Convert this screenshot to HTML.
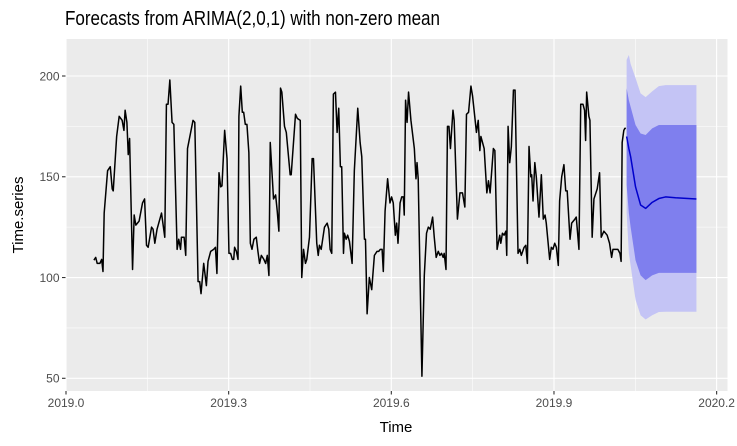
<!DOCTYPE html>
<html><head><meta charset="utf-8"><style>
body{margin:0;background:#fff;}
svg{display:block;font-family:"Liberation Sans",Arial,sans-serif;}
</style></head><body>
<svg id="chart" width="737" height="446" viewBox="0 0 737 446">
<rect width="737" height="446" fill="#fff"/>
<text x="65" y="25" font-size="20" fill="#000" textLength="375" lengthAdjust="spacingAndGlyphs">Forecasts from ARIMA(2,0,1) with non-zero mean</text>
<rect x="65.5" y="39" width="662" height="352" fill="#ebebeb"/>
<g id="grid"></g><g id="bands"></g><g id="lines"></g><g id="axes"></g>
<text x="396" y="432" font-size="15" text-anchor="middle" fill="#000">Time</text>
<text transform="translate(23,215) rotate(-90)" font-size="15" text-anchor="middle" fill="#000">Time.series</text>
</svg>
<script>
const obsDays=[18.8,20.0,21.0,22.8,24.0,24.9,25.7,28.0,29.8,31.1,31.8,34.1,35.8,37.8,39.0,39.8,41.0,41.9,42.8,44.8,45.9,47.0,49.2,51.5,52.9,54.2,55.3,57.6,58.6,59.8,61.3,64.3,66.5,67.6,68.7,69.9,71.4,72.6,74.8,75.9,77.1,77.7,79.5,80.6,81.8,85.5,86.7,88.9,90.0,90.9,92.7,94.5,95.6,97.4,99.4,100.6,101.6,103.0,104.1,105.0,106.8,
108.4,109.7,110.8,112.0,112.9,113.5,114.7,115.8,116.4,117.6,118.7,119.6,120.7,121.8,123.1,124.1,125.2,126.5,128.1,129.2,130.3,131.5,133.2,134.4,135.5,136.6,137.5,139.7,141.1,142.2,143.3,144.4,145.3,147.1,148.3,150.9,151.6,154.5,155.7,157.7,158.7,159.9,161.2,162.1,163.9,165.7,166.6,168.8,169.8,170.6,171.8,174.0,175.8,176.9,177.8,178.9,180.0,181.4,182.5,183.6,184.7,185.6,186.8,187.4,188.6,189.6,190.8,192.6,194.1,196.4,
198.0,199.1,200.9,201.6,202.7,204.2,205.8,207.6,209.4,210.5,211.6,212.8,213.6,214.8,216.5,218.1,219.2,220.3,221.7,222.6,223.5,224.9,226.0,227.1,227.7,228.6,229.6,230.6,232.2,234.5,235.6,236.3,237.1,239.6,241.2,242.7,243.9,245.2,246.8,247.9,249.2,250.6,251.7,252.8,253.9,254.6,255.8,256.8,257.8,258.8,260.5,261.3,263.5,265.2,266.9,268.5,269.6,271.0,272.6,273.7,276.3,277.5,278.6,279.3,281.5,283.3,284.4,285.5,287.7,
288.7,290.2,292.0,292.7,293.8,294.9,296.1,296.7,297.6,298.7,299.8,301.2,302.3,304.3,305.5,306.5,308.4,309.5,310.6,311.7,312.9,313.5,314.4,315.6,316.6,318.4,320.0,321.3,322.5,323.3,325.6,326.7,327.8,329.0,330.1,331.4,332.3,333.7,335.2,336.4,337.4,339.3,340.4,342.6,343.5,345.3,346.5,348.0,349.1,349.8,350.5,352.0,352.7,354.2,355.4,357.6,359.2,360.3,362.1,364.3,365.9,367.3,368.2,370.0,371.5,372.9,373.7,374.4,375.5,376.2,376.9];
const obsVals=[108.6,110,107,107,109,103,132,153,155,144,143,170,180,178,173,183,177,161,169,104,131,126,128,137,139,116,115,125,124,117,124,132,120,186,186,198,177,176,114,119,114,120,120,111,164,178,177,98,98,92,107,96,108,113,114,115,102,152,145,145.5,173,
159,112,112,109,109,115,113,109,180,195,182,182,176,176,162,117,114,119,120,113,107,111,109,107,111,101,167,139,141,133,123,194,192,175,172,151,151,181,179,178,100,114,107,109,120,159,159,117,111,116,114,125,127,124,114,112,191,192,172,184,155,155,112,122,119,121,118,107,153,184,
167,160,119,119,82,100,94,111,113,113,114,114,103,133,149,137,140,137,121,127,117,137,140,140,131,188,177,192,178,164,149,157,149,51,101,122,125,124,130,120,110,113,111,112,110,112,104,175,175,164,183,178,129,142,142,135,181,182,195,190,172,178,163,170,164,142,148,142,164,
163,114,121,117,122,121,123,111,175,157,165,193,193,112,114,111,115,116,107,165,150,151,138,157,150,130,151,129,131,127,109,115,114,117,115,106,138,150,156,143,143,119,127,129,130,114,186,186,183,168,192,180,178,120,139,144,152,120,123,121,117,110,114,114,114,112,108,167,173,174,174];
const fcDays=[377.4,378.9,380.1,383.4,386.8,390.2,394.6,399.1,403.6,410.3,424.4];
const fcMean=[170,164,160,145,136,134.3,137.3,139.2,140,139.6,139];
const fcHi80=[193.9,188,184.7,175.7,171.5,170.7,174,175.7,175.7,175.7,175.7];
const fcLo80=[146,132,125,108.6,101.1,98.7,101.1,102.3,102.3,102.3,102.3];
const fcHi95=[208,210.4,206,199,191.4,189.5,192.4,195,195.5,195.5,195.5];
const fcLo95=[132,112,106,89,81.3,79.2,81.3,82.9,83,83,83];
const xTicks=[2019.0,2019.3,2019.6,2019.9,2020.2];
const xTickLabels=["2019.0","2019.3","2019.6","2019.9","2020.2"];
const yTicks=[50,100,150,200];
const yTickLabels=["50","100","150","200"];

const NS="http://www.w3.org/2000/svg";
const PL=65.5,PR=727.5,PT=39,PB=391;
function xs(t){return 66+(t-2019.0)*542.2;}
function ys(v){return 378.3-(v-50)*2.0153;}
function dayToT(d){return 2019+d/365;}
function mk(tag,attrs,parent){const e=document.createElementNS(NS,tag);for(const k in attrs)e.setAttribute(k,attrs[k]);parent.appendChild(e);return e;}
const grid=document.getElementById('grid'),bands=document.getElementById('bands'),lines=document.getElementById('lines'),axes=document.getElementById('axes');
for(let i=0;i<xTicks.length-1;i++){const x=xs((xTicks[i]+xTicks[i+1])/2);
 const l=mk('line',{x1:x,x2:x,y1:PT,y2:PB,stroke:'#fff','stroke-width':0.55},grid);
 
 }
for(let i=0;i<yTicks.length;i++){const y=ys(yTicks[i]+25);if(y<PT)continue;
 const l=mk('line',{x1:PL,x2:PR,y1:y,y2:y,stroke:'#fff','stroke-width':0.55},grid);
 
 }
xTicks.forEach((t,i)=>{const x=xs(t);
 const l=mk('line',{x1:x,x2:x,y1:PT,y2:PB,stroke:'#fff','stroke-width':1.1},grid);
 
 
 const tk=mk('line',{x1:x,x2:x,y1:PB,y2:PB+3.5,stroke:'#333','stroke-width':1.1},axes);
 
 
 const tx=mk('text',{x:x,y:PB+16,'font-size':12,'text-anchor':'middle',fill:'#4d4d4d'},axes);
 tx.textContent=xTickLabels[i];
 
 });
yTicks.forEach((v,i)=>{const y=ys(v);
 const l=mk('line',{x1:PL,x2:PR,y1:y,y2:y,stroke:'#fff','stroke-width':1.1},grid);
 
 
 const tk=mk('line',{x1:PL-3.5,x2:PL,y1:y,y2:y,stroke:'#333','stroke-width':1.1},axes);
 
 
 const tx=mk('text',{x:PL-6,y:y+4.3,'font-size':12,'text-anchor':'end',fill:'#4d4d4d'},axes);
 tx.textContent=yTickLabels[i];
 
 });
function band(hi,lo,fill,name){let d='';
 for(let i=0;i<fcDays.length;i++)d+=(i?'L':'M')+xs(dayToT(fcDays[i])).toFixed(2)+','+ys(hi[i]).toFixed(2);
 for(let i=fcDays.length-1;i>=0;i--)d+='L'+xs(dayToT(fcDays[i])).toFixed(2)+','+ys(lo[i]).toFixed(2);
 const p=mk('path',{d:d+'Z',fill:fill},bands);
 
 }
band(fcHi95,fcLo95,'#c4c4f5','prediction-band-95');
band(fcHi80,fcLo80,'#7f7fee','prediction-band-80');
function line(days,vals,stroke,name){let d='';
 for(let i=0;i<days.length;i++)d+=(i?'L':'M')+xs(dayToT(days[i])).toFixed(2)+','+ys(vals[i]).toFixed(2);
 const p=mk('path',{d:d,fill:'none',stroke:stroke,'stroke-width':1.5,'stroke-linejoin':'round'},lines);
 
 }
line(obsDays,obsVals,'#000','observed-series-line');
line(fcDays,fcMean,'#0000cc','forecast-mean-line');
</script>
</body></html>
